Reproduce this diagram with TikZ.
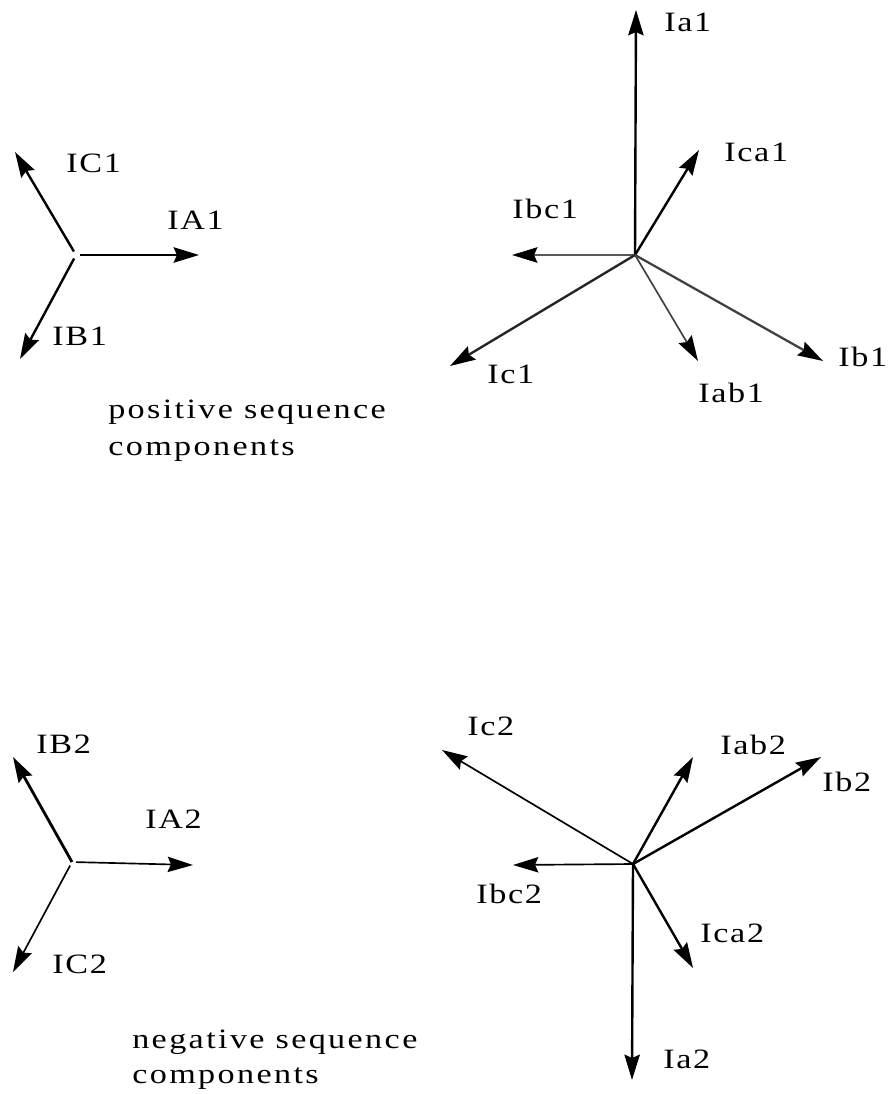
\documentclass[tikz,border=0pt]{standalone}
\usepackage{fontspec}
\setmainfont{Liberation Serif}[FakeStretch=1.22,LetterSpace=6]
\newfontfamily\capfont{Liberation Serif}[FakeStretch=1.22,LetterSpace=8.5]
\usetikzlibrary{arrows.meta}
\tikzset{
  vec/.style={draw=black,line width=1.8pt,-{Stealth[length=19pt,width=11.5pt,inset=2.5pt,color=black]}},
  thinvec/.style={vec,line width=1.25pt},
  faintvec/.style={vec,line width=1.7pt,draw=black!65},
  lab/.style={font=\fontsize{21}{27}\selectfont,inner sep=0pt,anchor=base west},
  caplab/.style={font=\capfont\fontsize{21}{27}\selectfont,inner sep=0pt,anchor=base west}
}
\begin{document}
\begin{tikzpicture}[x=0.75pt,y=-0.75pt]
\useasboundingbox (0,0) rectangle (888,1094);
% top-left
\coordinate (o1) at (76,255);
\coordinate (c1) at (15,152);
\coordinate (a1) at (199,255);
\coordinate (b1) at (20,359);
\draw[vec,shorten <=3pt] (o1) -- (c1);
\draw[vec,shorten <=3pt] (o1) -- (a1);
\draw[vec,shorten <=3pt] (o1) -- (b1);
\node[lab] (tIC1) at (66,173) {IC1};
\node[lab] (tIA1) at (167,230) {IA1};
\node[lab] (tIB1) at (52,346) {IB1};
\node[caplab] (tpos) at (108,418) {positive sequence};
\node[caplab] (tposb) at (108,455) {components};
% top-right
\coordinate (o2) at (635,255);
\coordinate (ia1) at (636,10);
\coordinate (ica1) at (699,150);
\coordinate (ibc1) at (512,255);
\coordinate (ic1) at (450,366);
\coordinate (iab1) at (698,361);
\coordinate (ib1) at (823,361);
\draw[vec] (o2) -- (ia1);
\draw[vec] (o2) -- (ica1);
\draw[faintvec] (o2) -- (ibc1);
\draw[vec,draw=black!85] (o2) -- (ic1);
\draw[thinvec,draw=black!75] (o2) -- (iab1);
\draw[faintvec,draw=black!75] (o2) -- (ib1);
\node[lab] (tIa1) at (664,32) {Ia1};
\node[lab] (tIca1) at (724,162) {Ica1};
\node[lab] (tIbc1) at (512,219) {Ibc1};
\node[lab] (tIc1) at (487,383) {Ic1};
\node[lab] (tIab1) at (698,402) {Iab1};
\node[lab] (tIb1) at (838,367) {Ib1};
% bottom-left
\coordinate (o3) at (72,862);
\coordinate (b2) at (13,757);
\coordinate (a2) at (193,865);
\coordinate (c2) at (13,972);
\draw[vec,line width=2.1pt] (o3) -- (b2);
\draw[thinvec,shorten <=3pt] (o3) -- (a2);
\draw[thinvec,shorten <=3pt] (o3) -- (c2);
\node[lab] (tIB2) at (36,753) {IB2};
\node[lab] (tIA2) at (145,828) {IA2};
\node[lab] (tIC2) at (52,973) {IC2};
\node[caplab] (tneg) at (132,1048) {negative sequence};
\node[caplab] (tnegb) at (132,1083) {components};
% bottom-right
\coordinate (o4) at (633,864);
\coordinate (ic2) at (442,750);
\coordinate (iab2) at (693,757);
\coordinate (ib2) at (821,757);
\coordinate (ibc2) at (513,865);
\coordinate (ica2) at (693,968);
\coordinate (ia2) at (632,1080);
\draw[thinvec] (o4) -- (ic2);
\draw[vec] (o4) -- (iab2);
\draw[vec] (o4) -- (ib2);
\draw[thinvec] (o4) -- (ibc2);
\draw[vec] (o4) -- (ica2);
\draw[vec] (o4) -- (ia2);
\node[lab] (tIc2) at (467,735) {Ic2};
\node[lab] (tIab2) at (720,754) {Iab2};
\node[lab] (tIb2) at (822,791) {Ib2};
\node[lab] (tIbc2) at (476,903) {Ibc2};
\node[lab] (tIca2) at (700,942) {Ica2};
\node[lab] (tIa2) at (663,1068) {Ia2};
\end{tikzpicture}
\end{document}
